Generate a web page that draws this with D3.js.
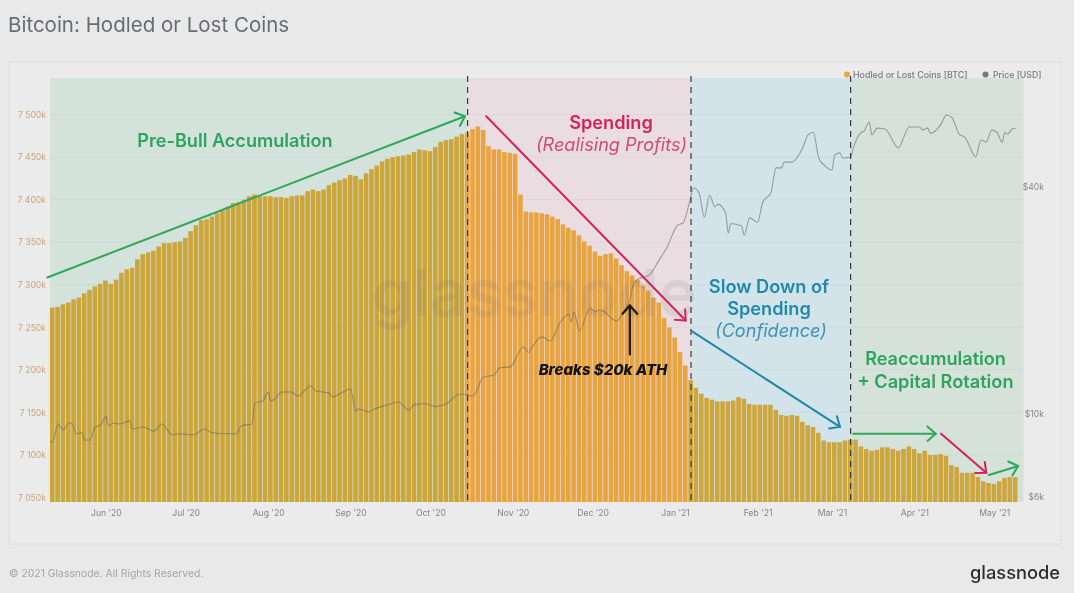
<!DOCTYPE html>
<html><head><meta charset="utf-8">
<script src="https://cdn.jsdelivr.net/npm/d3@7/dist/d3.min.js"></script>
<style>
html,body{margin:0;padding:0;background:#fff;overflow:hidden}
svg{display:block;font-family:Inter,"Noto Sans",sans-serif;filter:blur(.45px)}
</style></head><body><svg id="c" width="1080" height="593"></svg>
<script>
// Hodled or Lost Coins [thousand BTC], one bar every second day from 11 May 2020
const hodledValues = [
7273,7274,7277,7279,7283,7285,7290,7294,7298,7301,7305,7301,7306,7314,7318,7320,7330,7336,7338,7340,
7345,7349,7349,7350,7351,7355,7363,7370,7376,7377,7380,7384,7387,7392,7396,7397,7400,7404,7406,7404,
7404,7404,7403,7403,7402,7404,7405,7405,7410,7412,7410,7412,7417,7420,7423,7425,7429,7428,7424,7431,
7436,7440,7445,7448,7450,7451,7452,7453,7456,7459,7458,7457,7462,7468,7470,7471,7474,7477,7479,7483,
7486,7482,7463,7459,7459,7456,7455,7454,7406,7386,7385,7385,7384,7383,7380,7377,7371,7367,7364,7358,
7351,7346,7339,7334,7336,7337,7331,7323,7316,7311,7306,7299,7293,7285,7279,7261,7250,7238,7221,7205,
7188,7179,7172,7167,7165,7163,7163,7163,7164,7168,7166,7160,7159,7159,7159,7159,7153,7147,7146,7147,
7146,7139,7135,7133,7126,7117,7115,7115,7115,7117,7118,7118,7110,7107,7105,7106,7109,7109,7107,7105,
7107,7110,7107,7102,7105,7100,7100,7101,7099,7088,7086,7079,7079,7079,7074,7069,7067,7066,7069,7073,
7074,7074];
// Price [USD] readings: day number counted from 11 May 2020, and price
const priceDays = [0,1,3,5,7,8,10,12,13,15,17,19,21,22,24,26,30,31,35,39,42,46,49,54,58,61,66,70,72,76,77,80,82,83,85,87,91,93,98,100,105,106,113,115,116,120,122,127,131,135,137,141,145,149,154,156,159,163,167,169,173,178,180,181,185,188,192,195,196,197,199,203,205,206,208,213,216,218,219,221,225,229,232,236,238,240,242,244,246,248,250,251,254,255,256,260,261,263,266,268,271,273,275,276,279,281,283,285,287,289,291,294,295,297,298,301,302,305,306,308,309,311,314,319,321,323,327,328,330,331,335,337,339,342,344,346,348,350,352,354,356,358,359,360,362,363];
const priceValues = [8400,8400,9370,9030,9430,9430,8830,8880,8500,8500,9200,9300,9800,9270,9430,9370,9550,9090,9200,8970,9370,8770,8830,8770,9090,8880,8830,8830,9270,9370,10660,10780,11390,10780,10990,11390,11390,11110,11820,11460,11330,11050,11600,10140,10270,10080,10270,10540,10720,10200,10560,10600,10420,10600,11240,11240,11110,12480,12640,13200,13280,15000,14500,14900,15950,15550,17500,18300,17500,18570,16550,19000,18570,18800,18650,17580,18800,19980,21550,22700,23200,25500,27600,31600,32000,35300,39600,38500,33200,37900,35300,35900,34000,30100,31900,31400,29700,33000,32100,36400,38400,44800,44800,46400,46400,47900,50600,54800,55700,47600,45600,44200,48400,49100,47600,47900,50600,55700,56100,59300,54800,57100,56700,50600,54000,57500,57500,56500,57100,55300,58500,61900,61000,54800,54000,50600,47900,53100,52500,56400,55700,52300,55700,55000,57000,57000];

const hodledTicks = [7050,7100,7150,7200,7250,7300,7350,7400,7450,7500];
const priceTicks = [6000,10000,40000];
const monthTicks = ["2020-06-01","2020-07-01","2020-08-01","2020-09-01","2020-10-01","2020-11-01","2020-12-01","2021-01-01","2021-02-01","2021-03-01","2021-04-01","2021-05-01"];

// Phases: [first day, last day, band colour, bar colour]
const phaseStarts = [0,157,241,301];
const phaseEnds = [157,241,301,366];
const phaseFills = ["#d3e2da","#eadde2","#d2e4ea","#d4e2da"];
const phaseBars = ["#cca53b","#e9a442","#cda63e","#cda63e"];

// Annotation arrows in data units: day and thousand BTC
const arrowNames = ["g1","r1","b1","g2","r2","g3","k1"];
const arrowStartDay = [-0.4,164.3,241.4,302.3,335,353.8,218.8];
const arrowStartVal = [7308.6,7498,7246,7125,7125,7076.5,7218];
const arrowEndDay = [156.8,239.5,297.7,333.5,352.6,364.3,218.8];
const arrowEndVal = [7498,7258,7133,7125,7079,7087,7275.6];
const arrowColors = ["#2fa85a","#d6225a","#2187a8","#2fa85a","#d6225a","#2fa85a","#1a1a14"];
const arrowWidths = [2,2,2,2,2,2,2.2];

const W=1080,H=593;
const svg=d3.select("#c");
const start=new Date(2020,4,11), end=new Date(2021,4,12);
const dayDate=d=>d3.timeDay.offset(start,d);
const L=50,R=1023.5,T=78,B=502;
const x=d3.scaleTime().domain([start,end]).range([L,R]);
const y=d3.scaleLinear().domain([7044.7,7543]).range([B,T]);
const yp=d3.scaleLog().domain([5818,77570]).range([B,T]);
const barW=(x(dayDate(2))-x(dayDate(0)))*0.86;

svg.append("rect").attr("width",1074).attr("height",H).attr("fill","#e9e9e9");
svg.append("rect").attr("x",9).attr("y",62).attr("width",1052).attr("height",482)
  .attr("fill","#ebebeb").attr("stroke","#e0e0e0").attr("stroke-width",1.2);

// bands
svg.append("g").selectAll("rect").data(phaseStarts).join("rect")
  .attr("x",d=>x(dayDate(d))).attr("y",T)
  .attr("width",(d,i)=>x(dayDate(phaseEnds[i]))-x(dayDate(d))).attr("height",B-T)
  .attr("fill",(d,i)=>phaseFills[i]);

// grid
svg.append("g").selectAll("line").data(hodledTicks).join("line")
  .attr("x1",L).attr("x2",R).attr("y1",d=>y(d)).attr("y2",d=>y(d))
  .attr("stroke","#000").attr("stroke-opacity",.035);

// bars
const phaseOf=d=>{let k=0;phaseStarts.forEach((s,i)=>{if(d>=s)k=i});return k};
svg.append("g").selectAll("rect").data(hodledValues).join("rect")
  .attr("x",(v,i)=>x(dayDate(i*2))).attr("width",barW)
  .attr("y",v=>y(v)).attr("height",v=>B-y(v))
  .attr("fill",(v,i)=>phaseBars[phaseOf(i*2+1)]);

// price
const priceLine=d3.line().x(d=>x(dayDate(d))).y((d,i)=>yp(priceValues[i])).curve(d3.curveMonotoneX);
svg.append("path").attr("d",priceLine(priceDays)).attr("fill","none")
  .attr("stroke","#5f625c").attr("stroke-opacity",.55).attr("stroke-width",1.1);

// watermark
svg.append("text").text("glassnode").attr("x",372).attr("y",316).attr("font-size",65)
  .attr("font-weight",600).attr("fill","#6f6f6f").attr("fill-opacity",.12);

// axes
const ax=svg.append("g").attr("transform",`translate(${L-4},0)`)
  .call(d3.axisLeft(y).tickValues(hodledTicks).tickSize(0).tickPadding(0)
    .tickFormat(d=>"7 "+String(d).slice(1)+"k"));
ax.select(".domain").remove();
ax.selectAll("text").attr("font-size",8.6).attr("fill","#c8a47c").attr("font-family","Inter");
const ar=svg.append("g").attr("transform",`translate(${R+20.5},0)`)
  .call(d3.axisRight(yp).tickValues(priceTicks).tickSize(0).tickPadding(0)
    .tickFormat(d=>"$"+d/1000+"k"));
ar.select(".domain").remove();
ar.selectAll("text").attr("font-size",8.6).attr("fill","#85868c").attr("text-anchor","end").attr("font-family","Inter");
const ab=svg.append("g").attr("transform",`translate(0,${B+5})`)
  .call(d3.axisBottom(x).tickValues(monthTicks.map(d3.timeParse("%Y-%m-%d"))).tickSize(0).tickPadding(3)
    .tickFormat(d3.timeFormat("%b '%y")));
ab.select(".domain").remove();
ab.selectAll("text").attr("font-size",8.6).attr("fill","#85868c").attr("font-family","Inter");

// phase dividers
svg.append("g").selectAll("line").data(phaseStarts.slice(1)).join("line")
  .attr("x1",d=>x(dayDate(d))).attr("x2",d=>x(dayDate(d))).attr("y1",T-2).attr("y2",B)
  .attr("stroke","#3a3a3a").attr("stroke-width",1.2).attr("stroke-dasharray","6 5");

// arrows
const ag=svg.append("g").attr("fill","none").attr("stroke-linecap","round").attr("stroke-linejoin","round");
arrowNames.forEach((n,i)=>{
  const x1=x(dayDate(arrowStartDay[i])),y1=y(arrowStartVal[i]),x2=x(dayDate(arrowEndDay[i])),y2=y(arrowEndVal[i]);
  const a=Math.atan2(y2-y1,x2-x1),h=11,w=.72;
  ag.append("path").attr("d",d3.line()([[x1,y1],[x2,y2]])).attr("stroke",arrowColors[i]).attr("stroke-width",arrowWidths[i]);
  ag.append("path").attr("d",d3.line()([[x2-h*Math.cos(a-w),y2-h*Math.sin(a-w)],[x2,y2],[x2-h*Math.cos(a+w),y2-h*Math.sin(a+w)]]))
    .attr("stroke",arrowColors[i]).attr("stroke-width",arrowWidths[i]);
});

// annotation text
const noteText=["Pre-Bull Accumulation","Spending","(Realising Profits)","Slow Down of","Spending","(Confidence)","Reaccumulation","+ Capital Rotation","Breaks $20k ATH"];
const noteX=[235,611,611.5,769,769,771,935.5,935.5,603];
const noteY=[147,129,151,293,315,337,365,388,375];
const noteSize=[18.1,18.2,18.1,18.2,18.2,18.1,18.1,18.2,15];
const noteWeight=[600,600,400,600,600,400,600,600,800];
const noteStyle=["normal","normal","italic","normal","normal","italic","normal","normal","italic"];
const noteFill=["#2fa35f","#d6225a","#d24a77","#1f8aac","#1f8aac","#3b94b4","#2fa35f","#2fa35f","#111"];
svg.append("g").selectAll("text").data(noteText).join("text").text(d=>d)
  .attr("x",(d,i)=>noteX[i]).attr("y",(d,i)=>noteY[i]).attr("text-anchor","middle")
  .attr("font-size",(d,i)=>noteSize[i]).attr("font-weight",(d,i)=>noteWeight[i])
  .attr("font-style",(d,i)=>noteStyle[i]).attr("fill",(d,i)=>noteFill[i]);

// title, legend, footer
svg.append("text").text("Bitcoin: Hodled or Lost Coins").attr("x",8).attr("y",32).attr("font-size",20.5).attr("fill","#6a6c75");
svg.append("circle").attr("cx",847).attr("cy",74.5).attr("r",3).attr("fill","#eda53c");
svg.append("text").text("Hodled or Lost Coins [BTC]").attr("x",853).attr("y",77.5).attr("font-size",8.85).attr("font-weight",500).attr("fill","#77787e");
svg.append("circle").attr("cx",985.5).attr("cy",74.5).attr("r",3).attr("fill","#77787e");
svg.append("text").text("Price [USD]").attr("x",993).attr("y",77.5).attr("font-size",8.7).attr("font-weight",500).attr("fill","#77787e");
svg.append("text").text("© 2021 Glassnode. All Rights Reserved.").attr("x",9).attr("y",577).attr("font-size",10.4).attr("fill","#a4a4a4");
svg.append("text").text("glassnode").attr("x",970).attr("y",579).attr("font-size",18.3).attr("font-weight",500).attr("fill","#2e2e2e");
</script></body></html>
